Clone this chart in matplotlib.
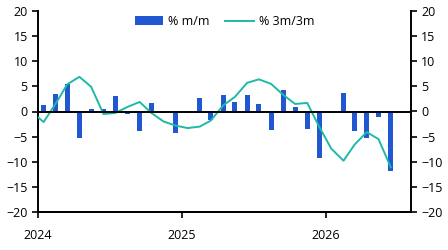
import numpy as np
import pandas as pd
import matplotlib
matplotlib.use("Agg")
import matplotlib.pyplot as plt
import matplotlib.dates as mdates

plt.rcParams["font.family"] = ["Open Sans", "DejaVu Sans"]

# monthly change, % m/m (Jan 2024 - Jun 2026)
mm = [1.2, 3.5, 5.4, -5.3, 0.4, 0.4, 3.0, -0.5, -3.8, 1.7, -0.3, -4.3,
      -0.2, 2.7, -1.6, 3.3, 1.9, 3.3, 1.5, -3.6, 4.3, 0.8, -3.5, -9.3,
      -0.3, 3.7, -3.9, -5.3, -1.1, -11.8]
# 3m/3m change, % (Dec 2023 - Jun 2026)
m3 = [0.0, -2.1, 1.6, 5.4, 6.9, 4.9, -0.5, -0.3, 0.9, 1.9, -0.3, -2.0, -2.8,
      -3.3, -3.0, -1.8, 1.2, 2.9, 5.7, 6.4, 5.5, 3.3, 1.5, 1.7, -3.0,
      -7.4, -9.8, -6.6, -4.1, -5.5, -11.1]

bar_dates = pd.date_range("2024-01-01", periods=len(mm), freq="MS") + pd.Timedelta(days=14)
line_dates = pd.date_range("2023-12-01", periods=len(m3), freq="MS") + pd.Timedelta(days=14)

bar_col = "#2157d0"
line_col = "#1dbaa6"

fig = plt.figure(figsize=(4.48, 2.5), dpi=100)
ax = fig.add_axes([0.085, 0.152, 0.832, 0.804])

bars = ax.bar(bar_dates, mm, width=13, color=bar_col, label="% m/m", zorder=2)
line, = ax.plot(line_dates, m3, color=line_col, lw=1.4, label="% 3m/3m", zorder=3)
ax.axhline(0, color="black", lw=1.4, zorder=4)

ax.set_ylim(-20, 20)
ax.set_yticks(np.arange(-20, 21, 5))
ax.set_xlim(pd.Timestamp("2024-01-01"), pd.Timestamp("2026-08-05"))
ax.xaxis.set_major_locator(mdates.YearLocator())
ax.xaxis.set_major_formatter(mdates.DateFormatter("%Y"))

ax2 = ax.twinx()
ax2.set_ylim(-20, 20)
ax2.set_yticks(np.arange(-20, 21, 5))

for a in (ax, ax2):
    a.spines["top"].set_visible(False)
    for s in ("left", "right", "bottom"):
        a.spines[s].set_linewidth(1.4)
    a.tick_params(labelsize=9, width=1.2, length=4, direction="out")
ax.spines["right"].set_visible(False)
ax2.spines["left"].set_visible(False)
ax.tick_params(axis="x", pad=8)

ax.legend([bars, line], ["% m/m", "% 3m/3m"], loc="upper center", ncol=2,
          frameon=False, fontsize=9, bbox_to_anchor=(0.5, 1.035),
          handlelength=2.3, columnspacing=1.2, handletextpad=0.4)

fig.savefig("out.png", dpi=100)
